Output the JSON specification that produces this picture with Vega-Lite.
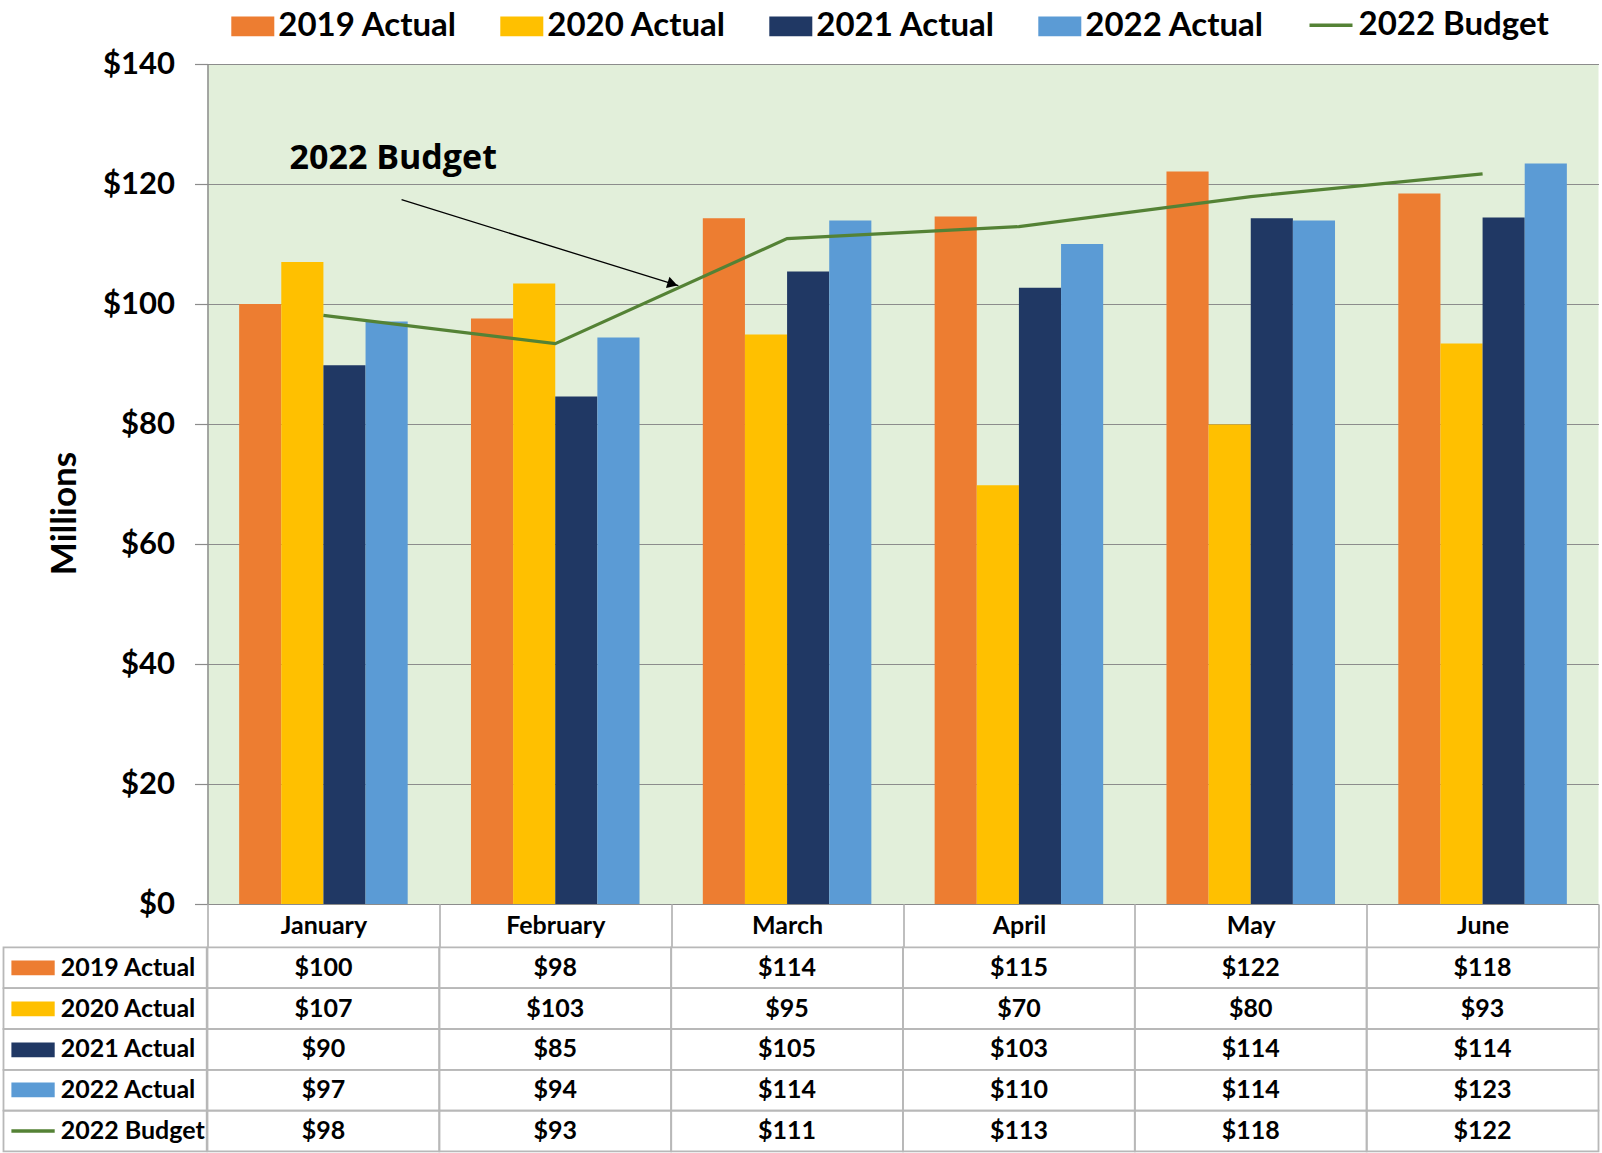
{
  "$schema": "https://vega.github.io/schema/vega-lite/v6.json",
  "background": "white",
  "padding": {"left": 2.5, "top": 1, "right": 0, "bottom": 0},
  "autosize": {"type": "pad"},
  "config": {"view": {"stroke": null}, "font": "Lato"},
  "datasets": {
    "sales": [
      {"month": "January", "series": "2019 Actual", "value": 100.0},
      {"month": "February", "series": "2019 Actual", "value": 97.6},
      {"month": "March", "series": "2019 Actual", "value": 114.3},
      {"month": "April", "series": "2019 Actual", "value": 114.6},
      {"month": "May", "series": "2019 Actual", "value": 122.1},
      {"month": "June", "series": "2019 Actual", "value": 118.4},
      {"month": "January", "series": "2020 Actual", "value": 107.0},
      {"month": "February", "series": "2020 Actual", "value": 103.4},
      {"month": "March", "series": "2020 Actual", "value": 94.9},
      {"month": "April", "series": "2020 Actual", "value": 69.8},
      {"month": "May", "series": "2020 Actual", "value": 79.9},
      {"month": "June", "series": "2020 Actual", "value": 93.4},
      {"month": "January", "series": "2021 Actual", "value": 89.8},
      {"month": "February", "series": "2021 Actual", "value": 84.6},
      {"month": "March", "series": "2021 Actual", "value": 105.4},
      {"month": "April", "series": "2021 Actual", "value": 102.7},
      {"month": "May", "series": "2021 Actual", "value": 114.3},
      {"month": "June", "series": "2021 Actual", "value": 114.4},
      {"month": "January", "series": "2022 Actual", "value": 97.1},
      {"month": "February", "series": "2022 Actual", "value": 94.4},
      {"month": "March", "series": "2022 Actual", "value": 113.9},
      {"month": "April", "series": "2022 Actual", "value": 110.0},
      {"month": "May", "series": "2022 Actual", "value": 113.9},
      {"month": "June", "series": "2022 Actual", "value": 123.4},
      {"month": "January", "series": "2022 Budget", "value": 98.1},
      {"month": "February", "series": "2022 Budget", "value": 93.4},
      {"month": "March", "series": "2022 Budget", "value": 110.9},
      {"month": "April", "series": "2022 Budget", "value": 112.9},
      {"month": "May", "series": "2022 Budget", "value": 117.9},
      {"month": "June", "series": "2022 Budget", "value": 121.7}
    ]
  },
  "columns": 2,
  "spacing": {"row": 43.4, "column": 0},
  "bounds": "flush",
  "concat": [
    {
      "width": 203.2,
      "height": 840,
      "data": {"values": [{"k": 1}]},
      "mark": {"type": "rect", "opacity": 0},
      "encoding": {"x": {"value": 0}, "x2": {"value": "width"}, "y": {"value": 0}, "y2": {"value": "height"}}
    },
    {
      "width": 1391,
      "height": 840,
      "view": {"fill": "#E2EFDA", "stroke": null},
      "layer": [
        {
          "layer": [
            {
              "data": {"name": "sales"},
              "transform": [{"filter": "datum.series !== '2022 Budget'"}],
              "mark": {"type": "bar"},
              "encoding": {
                "x": {"field": "month", "type": "nominal", "scale": {"domain": ["January", "February", "March", "April", "May", "June"], "paddingInner": 0.273, "paddingOuter": 0.1365}, "axis": null},
                "xOffset": {"field": "series", "type": "nominal", "scale": {"domain": ["2019 Actual", "2020 Actual", "2021 Actual", "2022 Actual"], "paddingInner": 0, "paddingOuter": 0}},
                "y": {
                  "field": "value", "type": "quantitative",
                  "scale": {"domain": [0, 140], "nice": false},
                  "axis": {
                    "values": [0, 20, 40, 60, 80, 100, 120, 140],
                    "format": "$.0f",
                    "grid": true, "gridColor": "#8c8c8c", "gridWidth": 1.2,
                    "domain": true, "domainColor": "#8c8c8c", "domainWidth": 1.5,
                    "ticks": true, "tickSize": 13, "tickColor": "#8c8c8c", "tickWidth": 1.2,
                    "labelFont": "Lato", "labelFontWeight": "bold", "labelFontSize": 31, "labelColor": "#000000", "labelPadding": 20,
                    "title": "Millions", "titleFont": "Lato", "titleFontWeight": "bold", "titleFontSize": 35, "titleColor": "#000000", "titlePadding": 20, "titleY": 449
                  }
                },
                "fill": {
                  "field": "series", "type": "nominal",
                  "scale": {"domain": ["2019 Actual", "2020 Actual", "2021 Actual", "2022 Actual"], "range": ["#ED7D31", "#FFC000", "#203864", "#5B9BD5"]},
                  "legend": {
                    "orient": "none", "legendX": 227.8, "legendY": -59.3,
                    "direction": "horizontal", "title": null, "padding": 0,
                    "labelFont": "Lato", "labelFontWeight": "bold", "labelFontSize": 33, "labelColor": "#000000", "labelLimit": 400,
                    "symbolType": "M-1,-0.46H1V0.46H-1Z", "symbolSize": 1849, "symbolStrokeWidth": 0,
                    "labelOffset": 4, "columnPadding": 43
                  }
                }
              }
            },
            {
              "data": {"name": "sales"},
              "transform": [{"filter": "datum.series === '2022 Budget'"}],
              "mark": {"type": "line", "strokeWidth": 3.2},
              "encoding": {
                "x": {"field": "month", "type": "nominal", "scale": {"domain": ["January", "February", "March", "April", "May", "June"]}},
                "y": {"field": "value", "type": "quantitative"},
                "stroke": {
                  "field": "series", "type": "nominal",
                  "scale": {"domain": ["2022 Budget"], "range": ["#548235"]},
                  "legend": {
                    "orient": "none", "legendX": 1304, "legendY": -62.3,
                    "direction": "horizontal", "title": null, "padding": 0,
                    "labelFont": "Lato", "labelFontWeight": "bold", "labelFontSize": 33, "labelColor": "#000000", "labelLimit": 400,
                    "symbolType": "stroke", "symbolSize": 1849, "symbolStrokeWidth": 3.5,
                    "labelOffset": 4
                  }
                }
              }
            }
          ]
        },
        {
          "layer": [
            {
              "data": {"values": [{"pos": 0.354, "val": 122.5, "label": "2022 Budget"}]},
              "mark": {"type": "text", "align": "left", "baseline": "alphabetic", "font": "Open Sans", "fontWeight": "bold", "fontSize": 34, "color": "#000000"},
              "encoding": {
                "x": {"field": "pos", "type": "quantitative", "scale": {"domain": [0, 6], "nice": false, "zero": false}, "axis": null},
                "y": {"field": "val", "type": "quantitative"},
                "text": {"field": "label"}
              }
            },
            {
              "data": {"values": [{"pos": 0.837, "val": 117.4, "pos2": 2.031, "val2": 103.05}]},
              "mark": {"type": "rule", "color": "#000000", "strokeWidth": 1.3},
              "encoding": {
                "x": {"field": "pos", "type": "quantitative"},
                "x2": {"field": "pos2"},
                "y": {"field": "val", "type": "quantitative"},
                "y2": {"field": "val2"}
              }
            },
            {
              "data": {"values": [{"pos": 2.006, "val": 103.35}]},
              "mark": {"type": "point", "shape": "triangle-right", "filled": true, "color": "#000000", "opacity": 1, "size": 140, "angle": 17.3},
              "encoding": {
                "x": {"field": "pos", "type": "quantitative"},
                "y": {"field": "val", "type": "quantitative"}
              }
            }
          ]
        }
      ],
      "resolve": {"scale": {"x": "independent"}, "axis": {"x": "independent"}}
    },
    {
      "width": 203.2,
      "height": 204,
      "data": {"values": [{"series": "2019 Actual"}, {"series": "2020 Actual"}, {"series": "2021 Actual"}, {"series": "2022 Actual"}, {"series": "2022 Budget"}]},
      "mark": {"type": "rect", "filled": false, "stroke": "#b8b8b8", "strokeWidth": 1.8},
      "encoding": {
        "x": {"value": 0},
        "x2": {"value": "width"},
        "y": {
          "field": "series", "type": "nominal",
          "scale": {"domain": ["2019 Actual", "2020 Actual", "2021 Actual", "2022 Actual", "2022 Budget"], "paddingInner": 0, "paddingOuter": 0},
          "axis": {
            "orient": "right", "offset": -195.8, "zindex": 1,
            "domain": false, "grid": false, "ticks": true, "tickSize": 43.3, "tickCap": "butt",
            "tickColor": {"condition": [
              {"test": "datum.value === '2019 Actual'", "value": "#ED7D31"},
              {"test": "datum.value === '2020 Actual'", "value": "#FFC000"},
              {"test": "datum.value === '2021 Actual'", "value": "#203864"},
              {"test": "datum.value === '2022 Actual'", "value": "#5B9BD5"}
            ], "value": "#548235"},
            "tickWidth": {"condition": {"test": "datum.value === '2022 Budget'", "value": 3.5}, "value": 14.7},
            "labelFont": "Lato", "labelFontWeight": "bold", "labelFontSize": 25, "labelColor": "#000000",
            "labelPadding": 6, "labelAlign": "left", "labelLimit": 300,
            "title": null
          }
        }
      }
    },
    {
      "width": 1391,
      "height": 204,
      "data": {"name": "sales"},
      "encoding": {
        "x": {
          "field": "month", "type": "nominal",
          "scale": {"domain": ["January", "February", "March", "April", "May", "June"], "paddingInner": 0, "paddingOuter": 0},
          "axis": {
            "orient": "top", "zindex": 1, "domain": false, "grid": false,
            "ticks": true, "tickBand": "extent", "tickSize": 43.4, "tickColor": "#b8b8b8", "tickWidth": 1.8,
            "labelFont": "Lato", "labelFontWeight": "bold", "labelFontSize": 25, "labelColor": "#000000",
            "labelPadding": -21.7, "labelBaseline": "middle", "labelAngle": 0, "title": null
          }
        },
        "y": {
          "field": "series", "type": "nominal",
          "scale": {"domain": ["2019 Actual", "2020 Actual", "2021 Actual", "2022 Actual", "2022 Budget"], "paddingInner": 0, "paddingOuter": 0},
          "axis": null
        }
      },
      "layer": [
        {"mark": {"type": "rect", "filled": false, "stroke": "#b8b8b8", "strokeWidth": 1.8}},
        {
          "mark": {"type": "text", "font": "Lato", "fontWeight": "bold", "fontSize": 25, "color": "#000000"},
          "encoding": {"text": {"field": "value", "type": "quantitative", "format": "$.0f"}}
        }
      ]
    }
  ]
}
